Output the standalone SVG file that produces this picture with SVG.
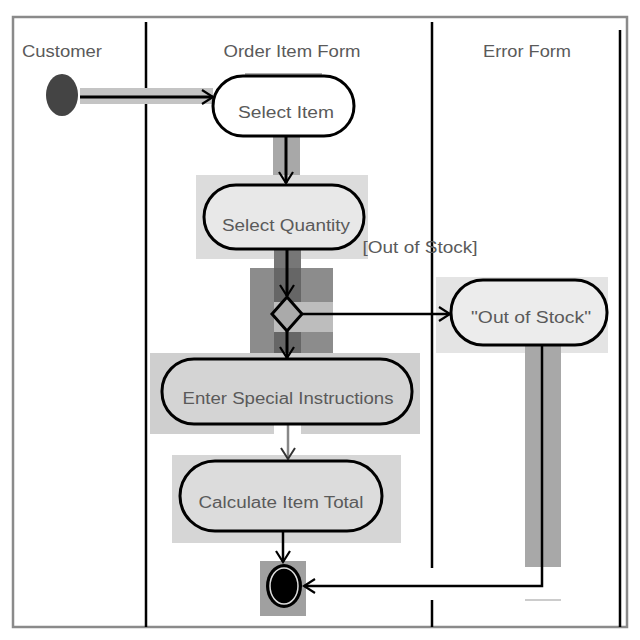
<svg xmlns="http://www.w3.org/2000/svg" width="640" height="640" viewBox="0 0 640 640">
<defs>
<style>
.lbl{font-family:"Liberation Sans",Arial,sans-serif;font-size:16px;fill:#5a5a5a;text-anchor:middle}
.act{stroke:#000;stroke-width:3}
.edge{fill:none;stroke:#000;stroke-width:3}
.lane{stroke:#000;stroke-width:2.5}
</style>
<marker id="arr" markerWidth="14" markerHeight="16" refX="12" refY="8" orient="auto" markerUnits="userSpaceOnUse">
<path d="M1,1 L12,8 L1,15" fill="none" stroke="#000" stroke-width="2.2"/>
</marker>
<marker id="arrg" markerWidth="14" markerHeight="16" refX="12" refY="8" orient="auto" markerUnits="userSpaceOnUse">
<path d="M1,1 L12,8 L1,15" fill="none" stroke="#333" stroke-width="2"/>
</marker>
</defs>
<rect width="640" height="640" fill="#fff"/>
<g id="swimlanes">
<rect x="13" y="17" width="614" height="610" fill="none" stroke="#8a8a8a" stroke-width="2.5"/>
<line class="lane" x1="146" y1="22" x2="146" y2="627"/>
<line class="lane" x1="432" y1="22" x2="432" y2="568"/>
<line class="lane" x1="432" y1="600" x2="432" y2="627"/>
<line class="lane" x1="620" y1="30" x2="620" y2="627"/>
<text class="lbl" x="62" y="57" textLength="80" lengthAdjust="spacingAndGlyphs">Customer</text>
<text class="lbl" x="292" y="57" textLength="137" lengthAdjust="spacingAndGlyphs">Order Item Form</text>
<text class="lbl" x="527" y="57" textLength="88" lengthAdjust="spacingAndGlyphs">Error Form</text>
</g>
<g id="backgrounds">
<rect x="80" y="88" width="133" height="16" fill="#c4c4c4"/>
<rect x="245" y="73" width="77" height="4" fill="#b0b0b0"/>
<rect x="273" y="137" width="27" height="46" fill="#a8a8a8"/>
<rect x="196" y="175" width="172" height="84" fill="#dcdcdc"/>
<rect x="274" y="245" width="27" height="24" fill="#777"/>
<rect x="250" y="268" width="83" height="90" fill="#8c8c8c"/>
<rect x="274" y="268" width="27" height="34" fill="#666"/>
<rect x="274" y="332" width="27" height="26" fill="#666"/>
<rect x="274" y="302" width="59" height="30" fill="#bdbdbd"/>
<rect x="150" y="353" width="270" height="81" fill="#cfcfcf"/>
<rect x="274" y="424" width="27" height="36" fill="#fff"/>
<rect x="172" y="455" width="229" height="88" fill="#d6d6d6"/>
<rect x="260" y="561" width="46" height="55" fill="#a0a0a0"/>
<rect x="436" y="277" width="172" height="76" fill="#e4e4e4"/>
<rect x="525" y="335" width="36" height="232" fill="#a8a8a8"/>
<line x1="525" y1="600" x2="561" y2="600" stroke="#999" stroke-width="1"/>
</g>
<g id="connectors">
<line class="edge" x1="80" y1="97" x2="213" y2="97" marker-end="url(#arr)"/>
<line class="edge" x1="286" y1="137" x2="286" y2="183" marker-end="url(#arr)"/>
<line class="edge" x1="287" y1="250" x2="287" y2="296" marker-end="url(#arr)"/>
<line class="edge" x1="287" y1="331" x2="287" y2="358" marker-end="url(#arr)"/>
<line class="edge" x1="302" y1="314" x2="450" y2="314" style="stroke-width:2.5" marker-end="url(#arr)"/>
<line class="edge" x1="288" y1="424" x2="288" y2="459" style="stroke:#888;stroke-width:2.5" marker-end="url(#arrg)"/>
<line class="edge" x1="283" y1="532" x2="283" y2="562" style="stroke-width:2.5" marker-end="url(#arr)"/>
<polyline class="edge" points="542,345 542,586 304,586" style="stroke-width:2.5" marker-end="url(#arr)"/>
<text class="lbl" x="420" y="253" textLength="115" lengthAdjust="spacingAndGlyphs">[Out of Stock]</text>
</g>
<g id="initial">
<ellipse cx="62" cy="95" rx="16" ry="21" fill="#444"/>
</g>
<g id="select-item">
<rect class="act" x="213" y="76" width="141" height="60" rx="30" fill="#fff"/>
<text class="lbl" x="286" y="118" textLength="96" lengthAdjust="spacingAndGlyphs">Select Item</text>
</g>
<g id="select-quantity">
<rect class="act" x="204" y="185" width="160" height="64" rx="32" fill="#e8e8e8"/>
<text class="lbl" x="286" y="231" textLength="128" lengthAdjust="spacingAndGlyphs">Select Quantity</text>
</g>
<g id="decision">
<polygon points="287,297 302,314 287,331 272,314" fill="#aaa" stroke="#000" stroke-width="3"/>
</g>
<g id="enter-special-instructions">
<rect class="act" x="162" y="359" width="250" height="65" rx="32" fill="#d4d4d4"/>
<text class="lbl" x="288" y="404" textLength="211" lengthAdjust="spacingAndGlyphs">Enter Special Instructions</text>
</g>
<g id="calculate-item-total">
<rect class="act" x="180" y="461" width="202" height="70" rx="35" fill="#dcdcdc"/>
<text class="lbl" x="281" y="508" textLength="165" lengthAdjust="spacingAndGlyphs">Calculate Item Total</text>
</g>
<g id="out-of-stock">
<rect class="act" x="451" y="280" width="156" height="65" rx="32" fill="#ececec"/>
<text class="lbl" x="531" y="323" textLength="120" lengthAdjust="spacingAndGlyphs">"Out of Stock"</text>
</g>
<g id="final">
<ellipse cx="284" cy="586" rx="18" ry="22" fill="#000"/>
<ellipse cx="284" cy="586" rx="14" ry="18" fill="none" stroke="#ddd" stroke-width="1.5"/>
</g>
</svg>
